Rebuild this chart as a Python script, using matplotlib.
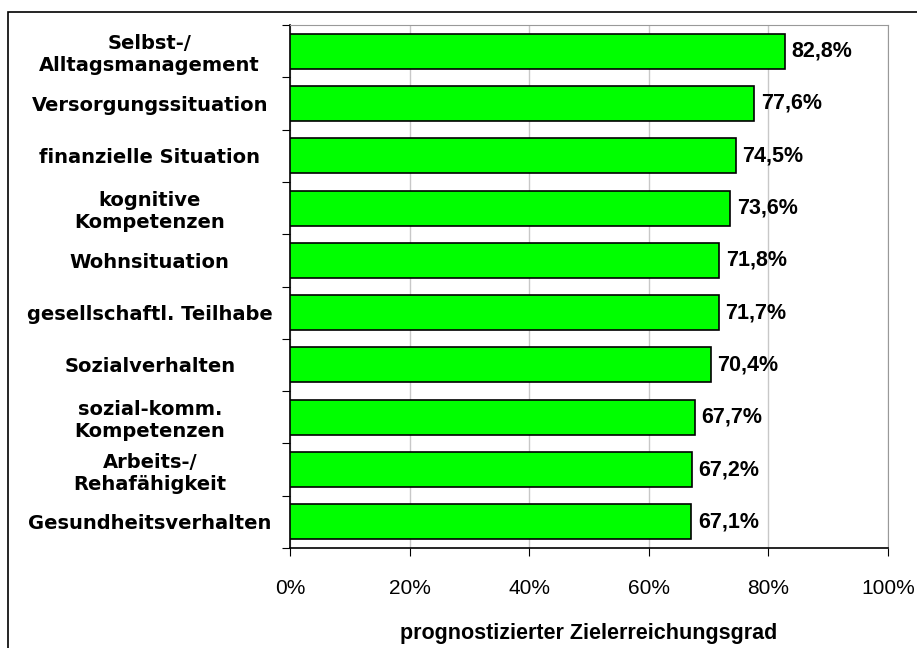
import matplotlib
matplotlib.use("Agg")
import matplotlib.pyplot as plt
from matplotlib.patches import Rectangle

kategorien = ["Selbst-/\nAlltagsmanagement", "Versorgungssituation", "finanzielle Situation",
              "kognitive\nKompetenzen", "Wohnsituation", "gesellschaftl. Teilhabe",
              "Sozialverhalten", "sozial-komm.\nKompetenzen", "Arbeits-/\nRehafähigkeit",
              "Gesundheitsverhalten"]
werte = [82.8, 77.6, 74.5, 73.6, 71.8, 71.7, 70.4, 67.7, 67.2, 67.1]
x_ticks = [0, 20, 40, 60, 80, 100]

plt.rcParams["font.family"] = ["Liberation Sans", "DejaVu Sans"]

fig = plt.figure(figsize=(9.17, 6.48), dpi=100)
ax = fig.add_axes([290 / 917, 1 - 548 / 648, 598 / 917, 523 / 648])

# Rahmen um das Diagramm
fig.patches.append(Rectangle((8 / 917, -0.1), 1.2, 1 - 12 / 648 + 0.1, transform=fig.transFigure,
                             fill=False, edgecolor="black", linewidth=1.2, zorder=0))

pos = list(range(len(werte)))
ax.barh(pos, werte, height=0.67, color="#00ff00", edgecolor="black", linewidth=1.2, zorder=3)
ax.set_ylim(len(werte) - 0.5, -0.5)
ax.set_xlim(0, 100)

for i, v in enumerate(werte):
    ax.text(v + 1.1, i, f"{v:.1f}%".replace(".", ","), va="center", ha="left",
            fontsize=15.5, fontweight="bold", zorder=4)

ax.set_xticks(x_ticks)
ax.set_xticklabels([f"{t}%" for t in x_ticks], fontsize=15)
ax.xaxis.grid(True, color="#c8c8c8", linewidth=1, zorder=0)

ax.set_yticks([p + 0.5 for p in [-1] + pos])
ax.set_yticklabels([])
ax.set_yticks(pos, minor=True)
ax.set_yticklabels(kategorien, minor=True, fontsize=14, fontweight="bold", ha="center",
                   linespacing=1.2, family="DejaVu Sans")
ax.tick_params(axis="y", which="minor", length=0, pad=101)
ax.tick_params(axis="y", which="major", length=6, direction="out")
ax.tick_params(axis="x", length=6, direction="out", pad=16)

for s in ["top", "right"]:
    ax.spines[s].set_color("#999999")
ax.spines["left"].set_linewidth(1.2)
ax.spines["bottom"].set_linewidth(1.2)

ax.set_xlabel("prognostizierter Zielerreichungsgrad", fontsize=15.5, fontweight="bold", labelpad=18)

plt.savefig("out.png", dpi=100)
